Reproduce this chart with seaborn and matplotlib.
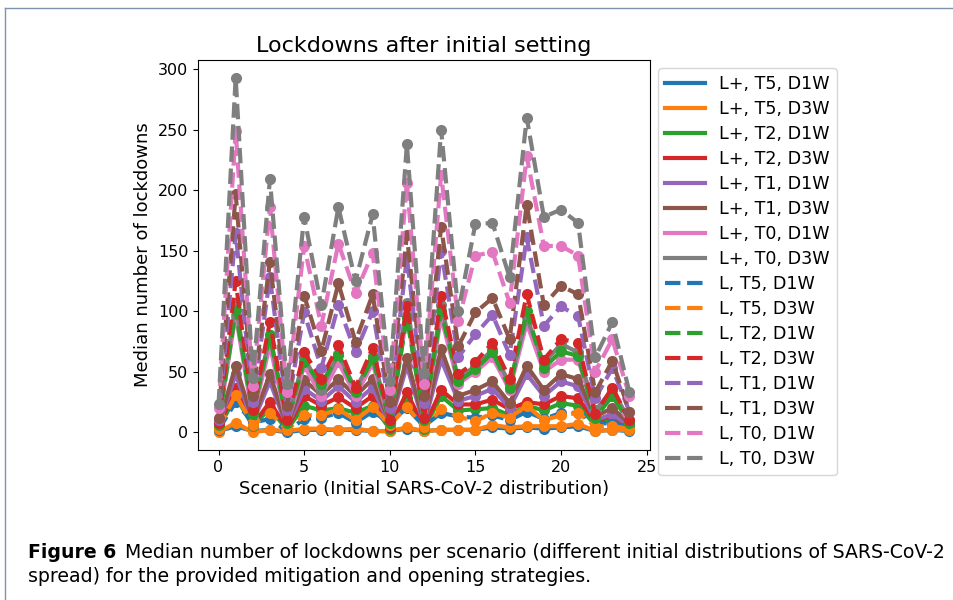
import matplotlib
matplotlib.use("Agg")
import matplotlib.pyplot as plt
from matplotlib.lines import Line2D
import seaborn as sns

# Scenario index (initial SARS-CoV-2 distribution)
scenarios = list(range(25))

# L+ strategies (solid)
lp_t5_d1w = [1, 5, 1, 2, 0, 2, 2, 2, 2, 1, 1, 3, 1, 2, 2, 2, 4, 3, 4, 3, 4, 5, 1, 2, 1]
lp_t5_d3w = [0, 8, 0, 2, 1, 3, 3, 2, 3, 1, 1, 4, 1, 2, 2, 2, 6, 4, 5, 5, 5, 7, 1, 2, 2]
lp_t2_d1w = [3, 30, 5, 20, 2, 22, 18, 20, 16, 22, 3, 28, 3, 30, 18, 19, 20, 14, 22, 18, 24, 22, 6, 11, 3]
lp_t2_d3w = [4, 37, 6, 25, 3, 30, 22, 29, 20, 30, 4, 33, 4, 35, 23, 23, 27, 19, 25, 23, 30, 28, 9, 14, 4]
lp_t1_d1w = [5, 48, 8, 42, 4, 36, 26, 38, 25, 37, 6, 55, 6, 60, 26, 30, 36, 20, 48, 30, 42, 38, 10, 15, 5]
lp_t1_d3w = [6, 55, 10, 48, 5, 43, 31, 44, 30, 44, 8, 61, 8, 69, 30, 35, 42, 24, 55, 35, 48, 44, 13, 20, 7]
lp_t0_d1w = [8, 97, 12, 72, 6, 55, 30, 58, 30, 57, 8, 97, 9, 95, 40, 50, 62, 35, 90, 50, 60, 60, 15, 30, 8]
lp_t0_d3w = [10, 107, 15, 80, 8, 62, 35, 65, 35, 63, 10, 107, 12, 105, 44, 55, 68, 40, 95, 57, 73, 66, 18, 35, 10]

# L strategies (dashed)
l_t5_d1w = [2, 25, 8, 11, 1, 11, 12, 16, 8, 17, 8, 20, 5, 16, 13, 12, 14, 10, 17, 11, 16, 16, 8, 7, 5]
l_t5_d3w = [3, 31, 6, 16, 2, 14, 14, 19, 10, 21, 6, 21, 4, 19, 13, 9, 16, 12, 22, 10, 14, 16, 5, 5, 3]
l_t2_d1w = [6, 101, 15, 80, 8, 58, 40, 64, 33, 61, 8, 95, 10, 100, 42, 52, 66, 37, 100, 53, 67, 63, 12, 30, 8]
l_t2_d3w = [8, 125, 18, 91, 10, 66, 44, 72, 37, 70, 10, 104, 12, 113, 48, 58, 74, 44, 114, 60, 77, 74, 15, 37, 10]
l_t1_d1w = [10, 165, 25, 128, 18, 99, 53, 105, 66, 100, 20, 145, 24, 150, 62, 81, 97, 64, 161, 88, 104, 96, 28, 53, 17]
l_t1_d3w = [12, 197, 30, 141, 22, 113, 67, 123, 75, 114, 25, 163, 30, 170, 71, 99, 111, 77, 188, 105, 121, 114, 33, 59, 17]
l_t0_d1w = [20, 249, 38, 186, 33, 154, 88, 156, 115, 148, 35, 206, 40, 213, 92, 146, 149, 107, 228, 154, 154, 146, 50, 77, 30]
l_t0_d3w = [23, 293, 45, 209, 40, 178, 105, 186, 125, 180, 42, 238, 49, 250, 100, 172, 173, 128, 260, 178, 184, 173, 62, 91, 33]

labels = ["L+, T5, D1W", "L+, T5, D3W", "L+, T2, D1W", "L+, T2, D3W",
          "L+, T1, D1W", "L+, T1, D3W", "L+, T0, D1W", "L+, T0, D3W",
          "L, T5, D1W", "L, T5, D3W", "L, T2, D1W", "L, T2, D3W",
          "L, T1, D1W", "L, T1, D3W", "L, T0, D1W", "L, T0, D3W"]
series = [lp_t5_d1w, lp_t5_d3w, lp_t2_d1w, lp_t2_d3w, lp_t1_d1w, lp_t1_d3w, lp_t0_d1w, lp_t0_d3w,
          l_t5_d1w, l_t5_d3w, l_t2_d1w, l_t2_d3w, l_t1_d1w, l_t1_d3w, l_t0_d1w, l_t0_d3w]

colors = sns.color_palette("tab10", 8)

fig = plt.figure(figsize=(9.54, 6.0), dpi=100)
ax = fig.add_axes([198 / 954, 150 / 600, 452 / 954, 390 / 600])

handles = []
for i, (lab, vals) in enumerate(zip(labels, series)):
    c = colors[i % 8]
    ls = "-" if i < 8 else "--"
    sns.lineplot(x=scenarios, y=vals, color=c, linestyle=ls, linewidth=3,
                 marker="o", markersize=8, markeredgewidth=0, ax=ax)
    handles.append(Line2D([], [], color=c, linestyle=ls, linewidth=3, label=lab))

ax.set_title("Lockdowns after initial setting", fontsize=16)
ax.set_xlabel("Scenario (Initial SARS-CoV-2 distribution)", fontsize=13)
ax.set_ylabel("Median number of lockdowns", fontsize=13)
ax.tick_params(labelsize=11.5)
ax.set_xticks([0, 5, 10, 15, 20, 25])
ax.set_yticks([0, 50, 100, 150, 200, 250, 300])

fig.legend(handles=handles, loc="upper left", bbox_to_anchor=(658 / 954, 532 / 600),
           fontsize=12.6, borderaxespad=0, handlelength=2.3, labelspacing=0.40)

# page frame lines
fig.add_artist(Line2D([5 / 954, 5 / 954], [0, 592 / 600], transform=fig.transFigure,
                      color="#7f93ae", linewidth=1))
fig.add_artist(Line2D([5 / 954, 1], [592 / 600, 592 / 600], transform=fig.transFigure,
                      color="#7f93ae", linewidth=1))

# caption
fig.canvas.draw()
t1 = fig.text(28 / 954, 1 - 552 / 600, "Figure 6", fontsize=13.6, fontweight="bold", va="center")
fig.canvas.draw()
bb = t1.get_window_extent()
fig.text((bb.x1 + 9) / 954, 1 - 552 / 600,
         "Median number of lockdowns per scenario (different initial distributions of SARS-CoV-2",
         fontsize=13.6, va="center")
fig.text(28 / 954, 1 - 576 / 600,
         "spread) for the provided mitigation and opening strategies.", fontsize=13.6, va="center")

fig.savefig("out.png", dpi=100)
